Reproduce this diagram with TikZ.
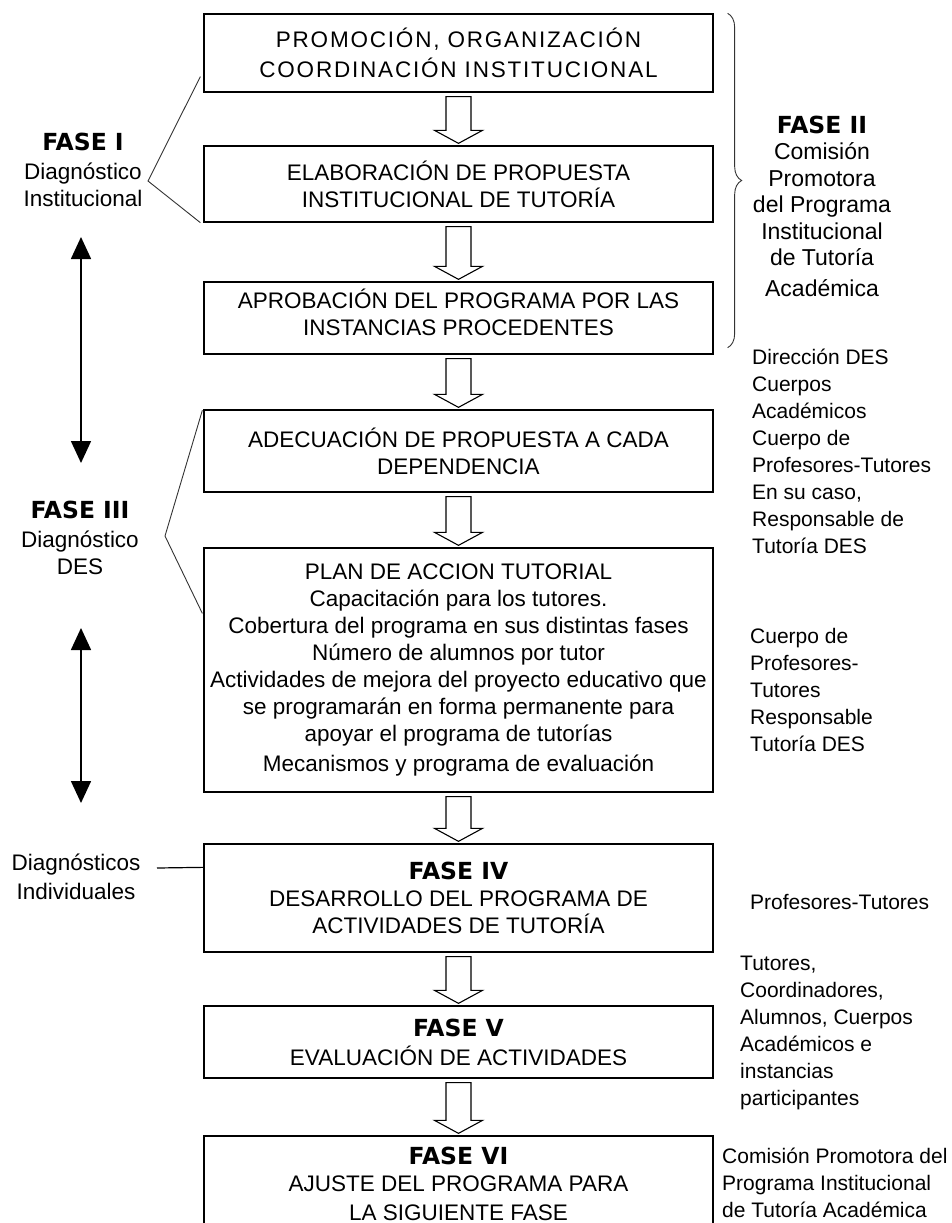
\documentclass[tikz,border=0pt]{standalone}
\usepackage{fontspec}
\setmainfont{Liberation Sans}
\newfontfamily\fasefont{DejaVu Sans}
\newfontfamily\anchafont[LetterSpace=8]{Liberation Sans}
\usetikzlibrary{positioning,calc,arrows.meta,decorations.pathreplacing}
\newcommand\fase[1]{{\fasefont\bfseries\fontsize{23.5}{27}\selectfont #1}}

\begin{document}
\begin{tikzpicture}[x=1pt, y=-1pt,
    caja/.style ={
        draw,
        line width=1.3pt,
        minimum width=509pt,
        align=center,
        inner sep=0pt,
        font=\fontsize{22.5}{27}\selectfont
    },
    lado/.style ={
        align=left,
        anchor=west,
        inner sep=0pt,
        font=\fontsize{21}{27}\selectfont
    },
    etiqueta/.style ={
        align=center,
        inner sep=0pt,
        font=\fontsize{22.5}{27}\selectfont
    },
    hueca/.style ={
        draw,
        line width=1.1pt,
        line join=miter
    },
    doble/.style ={
        line width=1.6pt,
        {Triangle[width=20pt,length=22pt]}-{Triangle[width=20pt,length=22pt]}
    },
    guia/.style ={
        line width=0.9pt,
        draw=black!80
    }
    ]
    \useasboundingbox (0,0) rectangle (952,1223);

    \node[caja, minimum height=78pt, font=\anchafont\fontsize{22.5}{30}\selectfont] (b1) at (458.5,53)
        {PROMOCIÓN, ORGANIZACIÓN\\COORDINACIÓN INSTITUCIONAL};
    \node[caja, minimum height=76pt] (b2) at (458.5,184)
        {ELABORACIÓN DE PROPUESTA\\INSTITUCIONAL DE TUTORÍA};
    \node[caja, minimum height=72pt] (b3) at (458.5,318)
        {APROBACIÓN DEL PROGRAMA POR LAS\\INSTANCIAS PROCEDENTES\\[-15pt]\mbox{}};
    \node[caja, minimum height=82pt] (b4) at (458.5,451)
        {ADECUACIÓN DE PROPUESTA A CADA\\DEPENDENCIA};
    \node[caja, minimum height=244pt] (b5) at (458.5,670)
        {PLAN DE ACCION TUTORIAL\\Capacitación para los tutores.\\Cobertura del programa en sus distintas fases\\Número de alumnos por tutor\\Actividades de mejora del proyecto educativo que\\se programarán en forma permanente para\\apoyar el programa de tutorías\\[3pt]Mecanismos y programa de evaluación};
    \node[caja, minimum height=108pt] (b6) at (458.5,898)
        {\fase{FASE IV}\\DESARROLLO DEL PROGRAMA DE\\ACTIVIDADES DE TUTORÍA};
    \node[caja, minimum height=72pt] (b7) at (458.5,1042)
        {\fase{FASE V}\\[2pt]EVALUACIÓN DE ACTIVIDADES};
    \node[caja, minimum height=96pt] (b8) at (458.5,1184)
        {\fase{FASE VI}\\AJUSTE DEL PROGRAMA PARA\\[2pt]LA SIGUIENTE FASE};

    \foreach \a/\b in {b1/b2, b2/b3, b3/b4, b4/b5, b5/b6, b6/b7, b7/b8}
        \draw[hueca] let \p1 = ($(\a.south)+(0,4)$), \p2 = ($(\b.north)+(0,-2)$) in
            (\x1-12.5pt,\y1) -- (\x1+12.5pt,\y1) -- (\x1+12.5pt,\y2+13pt) -- (\x1+24pt,\y2+13pt)
            -- (\x1,\y2) -- (\x1-24pt,\y2+13pt) -- (\x1-12.5pt,\y2+13pt) -- cycle;

    \node[etiqueta] (f1) at (83,170) {\fase{FASE I}\\[2pt]Diagnóstico\\Institucional};
    \node[etiqueta] (f3) at (80,538) {\fase{FASE III}\\[2pt]Diagnóstico\\DES};
    \node[etiqueta] (di) at (76,877) {Diagnósticos\\[2pt]Individuales};
    \node[etiqueta, font=\fontsize{23}{26.5}\selectfont] (f2) at (822,206)
        {\fase{FASE II}\\Comisión\\Promotora\\del Programa\\Institucional\\de Tutoría\\[4pt]Académica};

    \node[lado] (r1) at (752,451) {Dirección DES\\Cuerpos\\Académicos\\Cuerpo de\\Profesores-Tutores\\En su caso,\\Responsable de\\Tutoría DES};
    \node[lado] (r2) at (750,690) {Cuerpo de\\Profesores-\\Tutores\\Responsable\\Tutoría DES};
    \node[lado] (r3) at (750,902) {Profesores-Tutores};
    \node[lado] (r4) at (740,1033) {Tutores,\\Coordinadores,\\Alumnos, Cuerpos\\Académicos e\\instancias\\participantes};
    \node[lado] (r5) at (722,1183) {Comisión Promotora del\\Programa Institucional\\de Tutoría Académica};

    \draw[guia, decorate, decoration={brace, amplitude=14pt}]
        ($(b1.north east)+(14,0)$) -- ($(b3.south east)+(14,-7)$);

    \coordinate (v1) at (148,181);
    \coordinate (v3) at (165,536);
    \draw[guia] ($(b1.south west)+(-3,-16)$) -- (v1) -- ($(b2.south west)+(-3,0)$);
    \draw[guia] ($(b4.north west)+(-1,1)$) -- (v3) -- ($(b5.north west)+(-1,66)$);

    \coordinate (d1) at (81,237);
    \coordinate (d2) at (81,463);
    \coordinate (d3) at (81,628);
    \coordinate (d4) at (81,803);
    \draw[doble] (d1) -- (d2);
    \draw[doble] (d3) -- (d4);

    \coordinate (q0) at (157,868);
    \coordinate (q4) at ($(b6.north west)+(0,24)$);
    \draw[line width=1.2pt] (q0) -- (q4);
\end{tikzpicture}
\end{document}
